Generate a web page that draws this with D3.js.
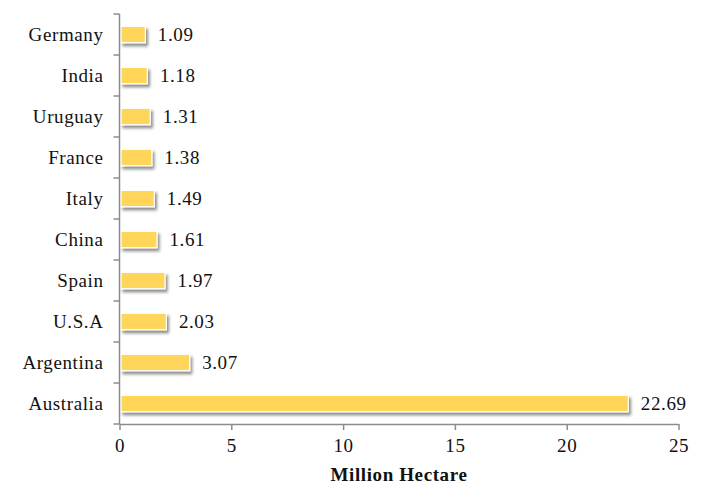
<!DOCTYPE html>
<html><head><meta charset="utf-8">
<script src="https://cdn.jsdelivr.net/npm/d3@7"></script>
<style>body{margin:0;background:#fff}svg{display:block}
svg text{font-family:"Liberation Serif","DejaVu Serif",serif;font-size:19px;fill:#111;letter-spacing:0.6px}</style>
</head><body>
<script>
const categories = ["Germany","India","Uruguay","France","Italy","China","Spain","U.S.A","Argentina","Australia"];
const values = [1.09,1.18,1.31,1.38,1.49,1.61,1.97,2.03,3.07,22.69];
const xTicks = [0,5,10,15,20,25];
const axisTitle = "Million Hectare";

const W=707,H=488;
const m={left:119.5,right:28.5,top:14,bottom:64};
const svg=d3.select("body").append("svg").attr("width",W).attr("height",H);
const defs=svg.append("defs");
const f=defs.append("filter").attr("id","sh").attr("x","-10%").attr("y","-50%").attr("width","130%").attr("height","250%");
f.append("feDropShadow").attr("dx",2).attr("dy",3).attr("stdDeviation",1.6).attr("flood-color","#000").attr("flood-opacity",0.45);

const x=d3.scaleLinear().domain([0,25]).range([m.left,W-m.right]);
const y=d3.scaleBand().domain(categories).range([m.top,H-m.bottom]).paddingInner(0.6).paddingOuter(0.3);

// bars
svg.append("g").selectAll("rect").data(categories).join("rect")
  .attr("x",x(0)+1.5).attr("y",d=>y(d))
  .attr("width",(d,i)=>x(values[i])-x(0)).attr("height",y.bandwidth())
  .attr("fill","#FFD55A").attr("stroke","#fff").attr("stroke-width",1.2)
  .attr("filter","url(#sh)");

// value labels
svg.append("g").selectAll("text").data(categories).join("text")
  .attr("x",(d,i)=>x(values[i])+14).attr("y",d=>y(d)+y.bandwidth()/2)
  .attr("dy","0.35em")
  .text((d,i)=>values[i].toFixed(2));

// y axis
const yb=d3.scaleBand().domain(categories).range([m.top,H-m.bottom]);
const ya=svg.append("g").attr("transform",`translate(${m.left},0)`);
ya.append("line").attr("x1",0).attr("x2",0).attr("y1",m.top).attr("y2",H-m.bottom).attr("stroke","#8c8c8c").attr("stroke-width",1.5);
const yt=[m.top,...categories.map(c=>yb(c)+yb.bandwidth())];
ya.selectAll("line.t").data(yt).join("line").attr("class","t").attr("x1",-6).attr("x2",0).attr("y1",d=>d).attr("y2",d=>d).attr("stroke","#8c8c8c").attr("stroke-width",1.5);
ya.selectAll("text").data(categories).join("text")
  .attr("x",-16).attr("y",d=>yb(d)+yb.bandwidth()/2).attr("dy","0.35em")
  .attr("text-anchor","end").text(d=>d);

// x axis
const xa=svg.append("g").attr("transform",`translate(0,${H-m.bottom})`)
  .call(d3.axisBottom(x).tickValues(xTicks).tickSize(6).tickSizeOuter(0).tickPadding(9));
xa.select(".domain").attr("stroke","#8c8c8c").attr("stroke-width",1.5);
xa.selectAll(".tick line").attr("stroke","#8c8c8c").attr("stroke-width",1.5);
xa.selectAll("text").attr("font-family",null).attr("font-size",null).attr("fill",null);

svg.append("text").attr("x",(x(0)+x(25))/2).attr("y",H-7).attr("text-anchor","middle")
  .attr("font-weight","bold").text(axisTitle);
</script>
</body></html>
